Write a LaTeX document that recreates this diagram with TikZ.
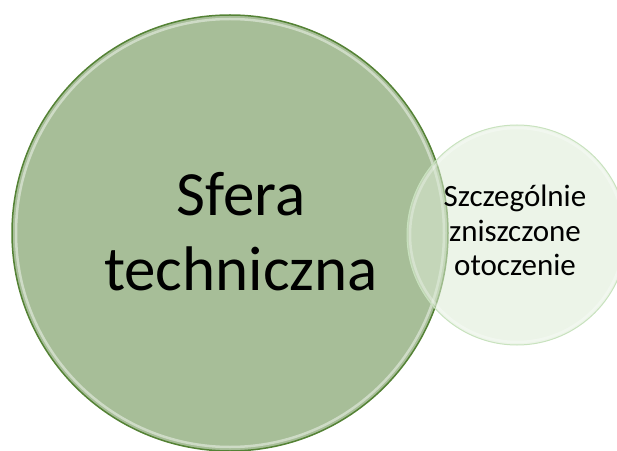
\documentclass[tikz,border=0pt]{standalone}
\usepackage{fontspec}
\setmainfont{Carlito}
\definecolor{techink}{RGB}{167,190,152}
\definecolor{rimink}{RGB}{84,130,53}
\definecolor{otoczink}{RGB}{220,235,213}
\definecolor{otoczrim}{RGB}{200,226,190}

\begin{document}
\begin{tikzpicture}[x=1pt, y=1pt,
  bigball/.style={circle, draw=rimink, line width=1.5pt, fill=techink, minimum size=436pt, inner sep=0pt},
  smallball/.style={circle, draw=otoczrim, line width=1pt, fill=otoczink, fill opacity=0.55, minimum size=220pt, inner sep=0pt},
  gloss/.style={white, line width=2.5pt, opacity=0.45}]
  \useasboundingbox (0,0) rectangle (617,450);
  \node[bigball] (sfera) at (230,217) {};
  \draw[gloss] (sfera.center) circle (214);
  \node[smallball] (otocz) at (517,215) {};
  \draw[gloss, opacity=0.3] (otocz.center) circle (107);
  \node[align=center, font=\fontsize{63}{75}\selectfont] (sferatxt) at (241,218) {Sfera\hspace{14pt}\\techniczna};
  \node[align=center, font=\fontsize{31}{34.5}\selectfont] (otocztxt) at (515,219.5) {Szczególnie\\zniszczone\\otoczenie};
\end{tikzpicture}
\end{document}
